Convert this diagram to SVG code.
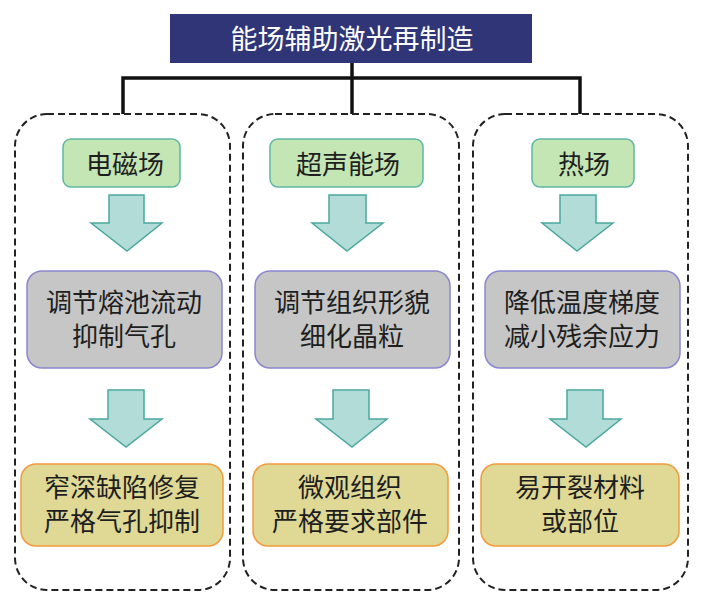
<svg xmlns="http://www.w3.org/2000/svg" width="704" height="610" viewBox="0 0 704 610">
<style>
text{font-family:"Noto Sans CJK SC","Noto Sans",sans-serif;text-anchor:middle;fill:#1e1e1e}
.title{fill:#fff;font-size:27px}
.t{font-size:26px}
.panel{fill:none;stroke:#222;stroke-width:2;stroke-dasharray:7 4}
.green{fill:#c4e6b4;stroke:#5cb8a4;stroke-width:1.5}
.gray{fill:#c6c6c6;stroke:#8a86d0;stroke-width:1.5}
.yellow{fill:#dfd995;stroke:#f39a3c;stroke-width:1.5}
.arrow{fill:#b2dcd8;stroke:#4ba89c;stroke-width:1.5;stroke-linejoin:miter}
.conn{fill:none;stroke:#111;stroke-width:3.5}
</style>
<rect x="0" y="0" width="704" height="610" fill="#fff"/>
<g id="connectors">
<path class="conn" d="M352,63 V114 M123,114 V78 H580 V114"/>
</g>
<g id="title">
<rect x="170" y="14" width="362" height="49" fill="#2f3577"/>
<text class="title" x="352" y="49">能场辅助激光再制造</text>
</g>
<g id="panel-left">
<rect class="panel" x="15" y="114" width="215" height="476" rx="32"/>
</g>
<g id="panel-mid">
<rect class="panel" x="243" y="114" width="216" height="476" rx="32"/>
</g>
<g id="panel-right">
<rect class="panel" x="473" y="114" width="215" height="476" rx="32"/>
</g>
<g id="em-field">
<rect class="green" x="63" y="139" width="117" height="48" rx="8"/>
<text class="t" x="125" y="174">电磁场</text>
</g>
<g id="us-field">
<rect class="green" x="270" y="139" width="153" height="48" rx="8"/>
<text class="t" x="348" y="174">超声能场</text>
</g>
<g id="th-field">
<rect class="green" x="532" y="139" width="102" height="48" rx="8"/>
<text class="t" x="584" y="174">热场</text>
</g>
<g id="arrows">
<polygon class="arrow" points="109,195 144,195 144,223 162,223 127,251 91,223 109,223"/>
<polygon class="arrow" points="329,195 366,195 366,223 383,223 347,251 312,223 329,223"/>
<polygon class="arrow" points="560,195 596,195 596,223 613,223 577,251 542,223 560,223"/>
<polygon class="arrow" points="108,390 144,390 144,419 162,419 126,447 90,419 108,419"/>
<polygon class="arrow" points="333,390 369,390 369,419 387,419 352,447 316,419 333,419"/>
<polygon class="arrow" points="567,390 603,390 603,419 621,419 586,447 550,419 567,419"/>
</g>
<g id="em-effect">
<rect class="gray" x="27" y="271" width="195" height="97" rx="15"/>
<text class="t" x="124" y="312">调节熔池流动</text>
<text class="t" x="124" y="346">抑制气孔</text>
</g>
<g id="us-effect">
<rect class="gray" x="255" y="271" width="195" height="97" rx="15"/>
<text class="t" x="352" y="312">调节组织形貌</text>
<text class="t" x="352" y="346">细化晶粒</text>
</g>
<g id="th-effect">
<rect class="gray" x="485" y="271" width="195" height="97" rx="15"/>
<text class="t" x="582" y="312">降低温度梯度</text>
<text class="t" x="582" y="346">减小残余应力</text>
</g>
<g id="em-app">
<rect class="yellow" x="21" y="464" width="202" height="82" rx="15"/>
<text class="t" x="122" y="497">窄深缺陷修复</text>
<text class="t" x="122" y="531">严格气孔抑制</text>
</g>
<g id="us-app">
<rect class="yellow" x="253" y="464" width="195" height="82" rx="15"/>
<text class="t" x="350" y="497">微观组织</text>
<text class="t" x="350" y="531">严格要求部件</text>
</g>
<g id="th-app">
<rect class="yellow" x="481" y="464" width="198" height="82" rx="15"/>
<text class="t" x="580" y="497">易开裂材料</text>
<text class="t" x="580" y="531">或部位</text>
</g>
</svg>
